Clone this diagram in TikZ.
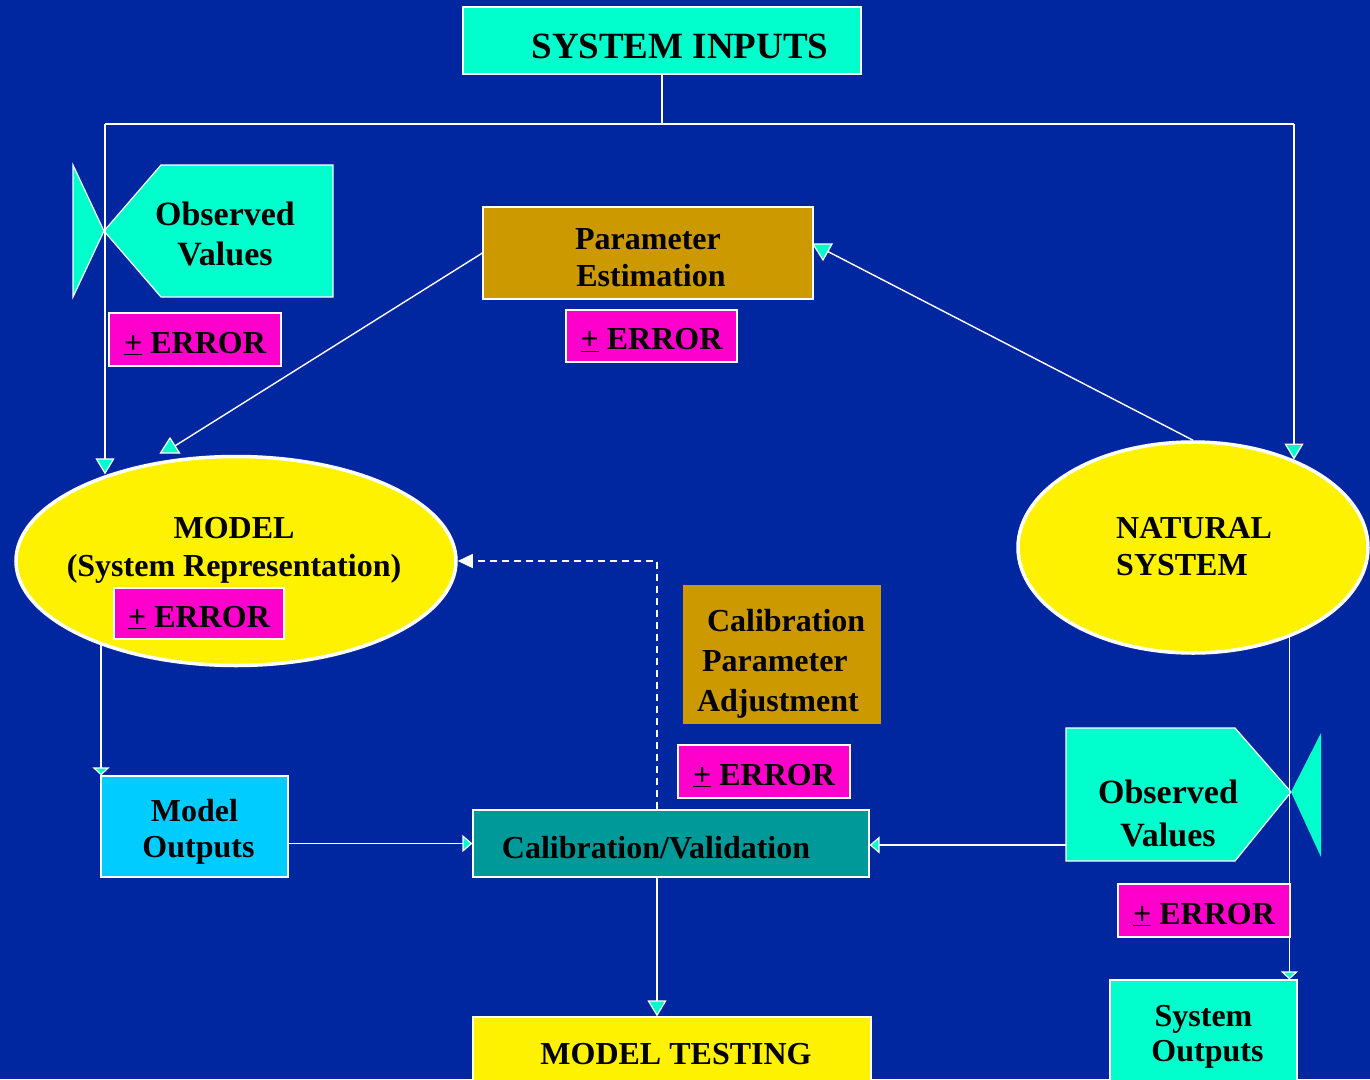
\documentclass[tikz,border=0pt]{standalone}
\usepackage{fontspec}
\setmainfont{Liberation Serif}
\usetikzlibrary{arrows.meta,shapes.geometric}
\definecolor{bg}{RGB}{0,38,160}
\definecolor{aqua}{RGB}{0,255,204}
\definecolor{gold}{RGB}{204,153,0}
\definecolor{mag}{RGB}{255,0,204}
\definecolor{sky}{RGB}{0,204,255}
\definecolor{tealbox}{RGB}{0,153,153}
\newcommand\up[1]{\rule{0pt}{#1}}
\newcommand\err{\up{29.5pt}\underline{+} ERROR}
\begin{document}
\begin{tikzpicture}[x=1pt,y=-1pt,
  T/.style={font=\fontsize{32}{#1}\selectfont\bfseries, text=black, align=center, inner sep=0pt},
  T/.default=38,
  box/.style={draw=white, line width=1.2pt, inner sep=0pt},
  errbox/.style={box, T, fill=mag, minimum width=172pt, minimum height=53pt},
  conn/.style={draw=white, line width=1.4pt},
  arr/.style={conn, -{Triangle[width=19pt,length=16pt,fill=aqua,line width=1.2pt]}},
  arrS/.style={conn, -{Triangle[width=17pt,length=8pt,fill=aqua,line width=1.2pt]}},
  arrM/.style={conn, -{Triangle[width=17pt,length=10pt,fill=aqua,line width=1.2pt]}},
  tri/.style={fill=aqua, draw=white, line width=1.2pt},
  oval/.style={ellipse, draw=white, line width=3.5pt, fill=yellow, inner sep=0pt},
]
\fill[bg] (0,0) rectangle (1370,1079);
\useasboundingbox (0,0) rectangle (1370,1079);

% ---------- nodes ----------
\node[box, fill=aqua, minimum width=398pt, minimum height=67pt, T,
      font=\fontsize{37}{40}\selectfont\bfseries] (si) at (662,40.5) {\up{36.5pt}\hspace*{36pt}SYSTEM INPUTS};

% observed values (top left)
\filldraw[fill=aqua, draw=white, line width=1.2pt] (161,165) -- (333,165) -- (333,297) -- (161,297) -- (104,231) -- cycle;
\filldraw[fill=aqua, draw=white, line width=1.2pt] (73,165) -- (104,231) -- (73,297) -- cycle;
\node[T=40, font=\fontsize{34}{40}\selectfont\bfseries] (ovL) at (225,234) {Observed\\Values};
\node[errbox] (e1) at (195,339.5) {\err};

% parameter estimation
\node[box, fill=gold, minimum width=330pt, minimum height=92pt, T=37] (pe) at (648,253) {\up{30pt}Parameter\\\hspace*{6pt}Estimation};
\node[errbox, minimum width=171pt, minimum height=52pt] (e2) at (651.5,336) {\err};

% model ellipse
\node[oval, minimum width=440pt, minimum height=209pt] (model) at (236,561) {};
\node[T=38] (modelt) at (234,550) {MODEL\\(System Representation)};
\node[errbox, minimum width=170pt, minimum height=51pt] (e3) at (199,613.5) {\err};

% natural system ellipse
\node[oval, minimum width=350pt, minimum height=211pt] (ns) at (1193,547.5) {};
\node[T=37, align=left, anchor=west] (nst) at (1116,547) {NATURAL\\SYSTEM};

% calibration parameter adjustment
\node[fill=gold, T=40, align=left, text width=170pt, inner xsep=14pt,
      minimum height=139pt] (cpa) at (782,654.5)
      {\up{41.5pt}\hspace*{10pt}Calibration\\\hspace*{5pt}Parameter\\Adjustment};
\node[errbox] (e4) at (764,771.5) {\err};

% calibration / validation
\node[box, fill=tealbox, minimum width=396pt, minimum height=67pt, T] (cv) at (671,843.5) {\up{30.5pt}Calibration/Validation\hspace*{30pt}};

% model outputs
\node[box, fill=sky, minimum width=187pt, minimum height=101pt, T=36] (mo) at (194.5,826.5) {\up{33.5pt}Model\\\hspace*{8pt}Outputs};

% observed values (right)
\filldraw[fill=aqua, draw=white, line width=1.2pt] (1066,728) -- (1235,728) -- (1291,792) -- (1235,861) -- (1066,861) -- cycle;
\fill[aqua] (1291,792) -- (1321,733) -- (1321,857) -- cycle;
\node[T=43, font=\fontsize{34}{43}\selectfont\bfseries] (ovR) at (1168,813) {Observed\\Values};
\coordinate (ovRw) at (1066,845);
\node[errbox] (e5) at (1204,910.5) {\err};

% system outputs
\node[box, fill=aqua, minimum width=187pt, minimum height=114pt, T=35] (so) at (1203.5,1037) {System\\\hspace*{8pt}Outputs};

% model testing
\node[box, fill=yellow, minimum width=398pt, minimum height=74pt, T] (mt) at (672,1054) {\hspace*{8pt}MODEL TESTING};

% ---------- connectors ----------
\coordinate (jL) at (105,124);
\coordinate (jR) at (1294,124);
\draw[conn] (si.south) -- (si.south |- jL);
\draw[conn] (jL) -- (jR);
\draw[arr] (jL) -- (jL |- model.146.7);
\draw[arr] (jR) -- (jR |- ns.41.5);

% parameter estimation -> model
\coordinate (tipM) at (170,438);
\draw[conn] (pe.west) -- (170,449);
\filldraw[tri] (tipM) -- ++(9.5pt,-15pt) -- ++(-19pt,0pt) -- cycle;

% natural system -> parameter estimation
\coordinate (tipP) at (823,260);
\draw[conn] (ns.north) -- (823,249);
\filldraw[tri] (tipP) -- ++(-10pt,16pt) -- ++(19pt,0pt) -- cycle;

% model -> model outputs -> calibration
\draw[arrS] (model.212.6) -- (model.212.6 |- mo.north);
\draw[arrM] (mo.east |- cv.west) -- (cv.west);
\draw[arrM] (ovRw) -- (ovRw -| cv.east);

% natural system -> system outputs
\draw[arrS] (ns.317.9) -- (ns.317.9 |- so.north);

% calibration/validation -> model testing
\draw[arr] ([xshift=-14pt]cv.south) -- ([xshift=-14pt]cv.south |- mt.north);

% dashed feedback
\draw[conn, dash pattern=on 7pt off 5pt, -{Triangle[width=14pt,length=15pt,fill=white]}]
  ([xshift=-14pt]cv.north) |- (model.east);
\end{tikzpicture}
\end{document}
